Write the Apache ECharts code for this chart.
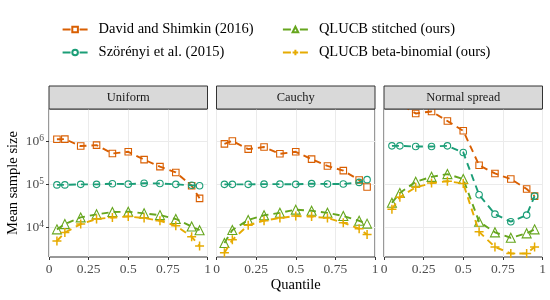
<!DOCTYPE html>
<html><head><meta charset="utf-8">
<script src="https://cdn.jsdelivr.net/npm/echarts@6/dist/echarts.min.js"></script>
<style>html,body{margin:0;padding:0;background:#fff}#c{width:550px;height:300px}</style>
</head><body><div id="c"></div>
<script>
// ---- data ----
const quantiles = [0.05, 0.1, 0.2, 0.3, 0.4, 0.5, 0.6, 0.7, 0.8, 0.9, 0.95];
const panelTitles = ['Uniform', 'Cauchy', 'Normal spread'];
const seriesNames = ['David and Shimkin (2016)', 'Szörényi et al. (2015)', 'QLUCB stitched (ours)', 'QLUCB beta-binomial (ours)'];
const xTicks = [0, 0.25, 0.5, 0.75, 1];
const yTicks = [1e4, 1e5, 1e6];

const davidUniform    = [1.14e6, 1.15e6, 7.9e5, 8.3e5, 5.3e5, 5.8e5, 3.8e5, 2.6e5, 1.9e5, 9.3e4, 4.7e4];
const szorenyiUniform = [9.7e4, 9.7e4, 1.0e5, 1.0e5, 1.03e5, 1.01e5, 1.06e5, 1.05e5, 1.0e5, 9.5e4, 9.3e4];
const stitchedUniform = [8.8e3, 1.17e4, 1.68e4, 1.98e4, 2.24e4, 2.28e4, 2.09e4, 1.9e4, 1.54e4, 1.03e4, 8.4e3];
const betabinUniform  = [4.7e3, 7.4e3, 1.17e4, 1.54e4, 1.67e4, 1.76e4, 1.62e4, 1.4e4, 1.07e4, 5.9e3, 3.6e3];

const davidCauchy    = [8.9e5, 1.04e6, 6.7e5, 7.5e5, 5.2e5, 5.8e5, 3.9e5, 2.7e5, 2.1e5, 1.26e5, 8.7e4];
const szorenyiCauchy = [1.0e5, 1.0e5, 1.0e5, 1.01e5, 1.01e5, 1.0e5, 1.04e5, 1.02e5, 1.02e5, 1.11e5, 1.29e5];
const stitchedCauchy = [4.2e3, 8.5e3, 1.46e4, 1.88e4, 2.15e4, 2.55e4, 2.4e4, 2.15e4, 1.81e4, 1.4e4, 1.2e4];
const betabinCauchy  = [2.5e3, 5.0e3, 1.1e4, 1.41e4, 1.62e4, 1.81e4, 1.76e4, 1.62e4, 1.26e4, 9.1e3, 6.7e3];

const davidNormal    = [8.5e6, 7.7e6, 4.6e6, 5.1e6, 3.05e6, 1.8e6, 2.8e5, 1.8e5, 1.33e5, 7.8e4, 5.3e4];
const szorenyiNormal = [8.0e5, 8.0e5, 7.7e5, 7.7e5, 8.0e5, 5.6e5, 5.7e4, 2.0e4, 1.33e4, 1.9e4, 5.3e4];
const stitchedNormal = [3.7e4, 6.3e4, 1.15e5, 1.5e5, 1.74e5, 1.33e5, 1.33e4, 7.5e3, 5.6e3, 7.1e3, 8.8e3];
const betabinNormal  = [2.6e4, 5.0e4, 8.5e4, 1.07e5, 1.18e5, 1.05e5, 7.7e3, 3.4e3, 2.4e3, 2.4e3, 3.4e3];

const panelData = [
  [davidUniform, szorenyiUniform, stitchedUniform, betabinUniform],
  [davidCauchy, szorenyiCauchy, stitchedCauchy, betabinCauchy],
  [davidNormal, szorenyiNormal, stitchedNormal, betabinNormal]
];

// ---- styles / layout ----
const FONT = '"Liberation Serif", "Times New Roman", serif';
const colors = ['#D95F02', '#1B9E77', '#66A61E', '#E6AB02'];
const symbols = ['rect', 'circle', 'triangle', 'path://M0,5L10,5M5,0L5,10'];
const symbolSizes = [6.5, 6.5, 9, 9];
const borderWidths = [1.1, 1.1, 1.1, 1.5];
const gridLefts = [49, 216.5, 384];
const gridWidth = 158.5;
const gridTop = 109;
const gridHeight = 148;
const stripHeight = 23;
const yMin = 1980, yMax = 5.845e6;

const grids = gridLefts.map(l => ({
  left: l, top: gridTop, width: gridWidth, height: gridHeight,
  show: true, borderColor: '#333333', borderWidth: 1, backgroundColor: 'transparent'
}));

const xAxes = gridLefts.map((l, i) => ({
  type: 'value', gridIndex: i, min: 0, max: 1, interval: 0.25,
  axisLine: { show: false },
  axisTick: { show: true, length: 3, lineStyle: { color: '#333333', width: 1 } },
  axisLabel: { show: true, margin: 5, color: '#4D4D4D', fontFamily: FONT, fontSize: 13.5,
    formatter: v => String(v) },
  splitLine: { show: true, lineStyle: { color: '#EBEBEB', width: 1 } },
  name: i === 1 ? 'Quantile' : '',
  nameLocation: 'middle', nameGap: 21,
  nameTextStyle: { fontFamily: FONT, fontSize: 14.5, color: '#000' }
}));

const yAxes = gridLefts.map((l, i) => ({
  type: 'log', logBase: 10, gridIndex: i, min: yMin, max: yMax,
  axisLine: { show: false },
  axisTick: { show: i === 0, length: 3, customValues: yTicks, lineStyle: { color: '#333333', width: 1 } },
  axisLabel: { show: i === 0, margin: 5, customValues: yTicks,
    formatter: v => '{b|10}{s|' + Math.round(Math.log10(v)) + '}',
    rich: {
      b: { fontFamily: FONT, fontSize: 13.5, color: '#4D4D4D', lineHeight: 16 },
      s: { fontFamily: FONT, fontSize: 9.5, color: '#4D4D4D', lineHeight: 10, verticalAlign: 'top' }
    } },
  splitLine: { show: true, lineStyle: { color: '#EBEBEB', width: 1 } },
  name: i === 0 ? 'Mean sample size' : '',
  nameLocation: 'middle', nameGap: 28, nameRotate: 90,
  nameTextStyle: { fontFamily: FONT, fontSize: 14.5, color: '#000' }
}));

const series = [];
panelData.forEach((sets, p) => {
  sets.forEach((vals, s) => {
    series.push({
      type: 'line', name: seriesNames[s], xAxisIndex: p, yAxisIndex: p,
      data: quantiles.map((q, k) => [q, vals[k]]),
      symbol: symbols[s], symbolSize: symbolSizes[s], showSymbol: true, showAllSymbol: true,
      clip: true, animation: false,
      lineStyle: { color: colors[s], width: 1.9, type: [7, 5] },
      itemStyle: { color: 'rgba(0,0,0,0)', borderColor: colors[s], borderWidth: borderWidths[s] },
      emphasis: { disabled: true },
      z: 2 + s
    });
  });
});

const legendLefts = [61.7, 61.7, 282, 282];
const legendTops = [22, 45, 22, 45];
const legends = seriesNames.map((n, i) => ({
  data: [n], left: legendLefts[i], top: legendTops[i], padding: 0,
  itemWidth: 25, itemHeight: 7, itemGap: 0, selectedMode: false,
  textStyle: { fontFamily: FONT, fontSize: 14.5, color: '#000', padding: [0, 0, 0, 6] },
  lineStyle: { type: [8, 9], width: 1.8 }
}));

const graphics = [];
panelTitles.forEach((t, i) => {
  graphics.push({
    type: 'rect', z: 10,
    shape: { x: gridLefts[i], y: gridTop - stripHeight, width: gridWidth, height: stripHeight },
    style: { fill: '#D9D9D9', stroke: '#333333', lineWidth: 1 }
  });
  graphics.push({
    type: 'text', z: 11,
    x: gridLefts[i] + gridWidth / 2, y: gridTop - stripHeight / 2,
    style: { text: t, align: 'center', verticalAlign: 'middle', textAlign: 'center', textVerticalAlign: 'middle',
      fontFamily: FONT, fontSize: 12.5, fill: '#1A1A1A' }
  });
});

const chart = echarts.init(document.getElementById('c'), null, { renderer: 'canvas' });
chart.setOption({
  animation: false,
  backgroundColor: '#ffffff',
  grid: grids, xAxis: xAxes, yAxis: yAxes,
  legend: legends, series: series, graphic: graphics
});
</script></body></html>
